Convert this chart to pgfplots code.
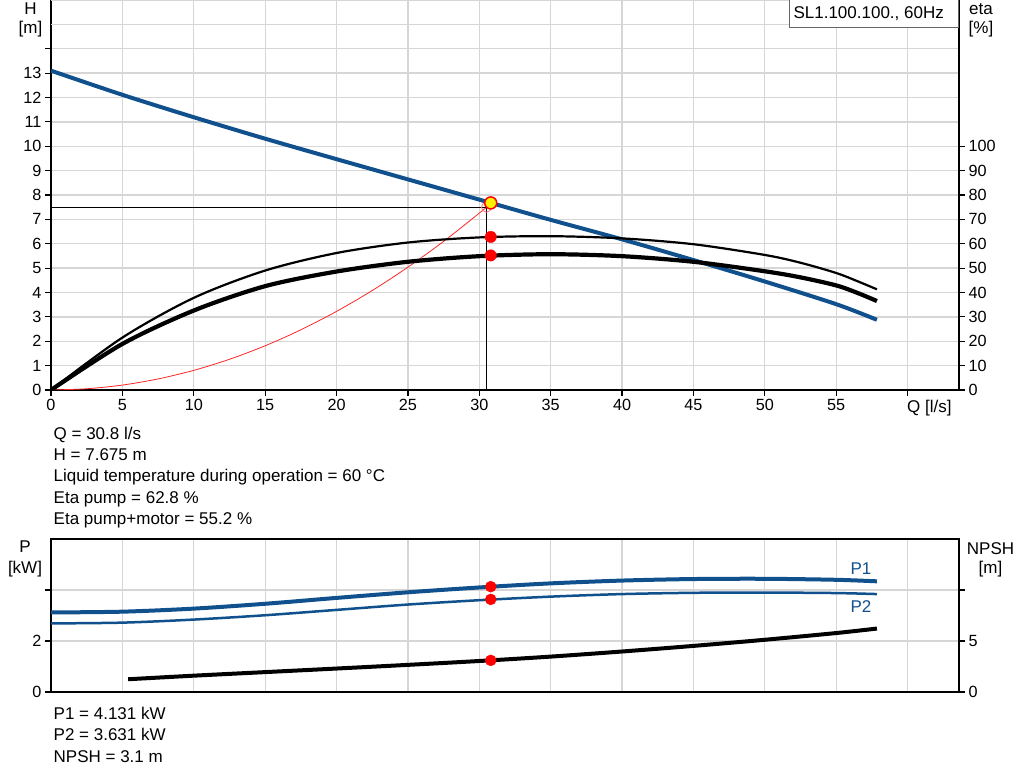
\documentclass[border=0pt]{standalone}
\usepackage{pgfplots}
\pgfplotsset{compat=1.18}
\usepackage{fontspec}
\setmainfont{Liberation Sans}
\definecolor{gblue}{RGB}{16,80,140}
\definecolor{gridc}{RGB}{214,214,214}
\begin{document}
\begin{tikzpicture}[x=1pt,y=1pt]
\useasboundingbox (0,0) rectangle (1024,781);
\pgfplotsset{
  base/.style={scale only axis, width=908pt, xmin=0, xmax=63.6,
    /pgf/number format/assume math mode=true,
    tick label style={font=\fontsize{16.2}{19}\selectfont},
    tick align=outside, major tick length=6pt,
    axis line style={line width=1.6pt},
    major grid style={gridc, line width=1.3pt},
    tick style={black, line width=1.2pt}},
}
% ---------- top panel: H ----------
\begin{axis}[base, at={(51pt,391pt)}, anchor=south west, height=390pt,
  ymin=0, ymax=16,
  xtick={0,5,...,60}, xticklabels={0,5,10,15,20,25,30,35,40,45,50,55,{}},
  ytick={0,1,...,14}, yticklabels={0,1,2,3,4,5,6,7,8,9,10,11,12,13,{}},
  extra y ticks={15}, extra y tick labels={}, extra y tick style={major tick length=0pt},
  xtick pos=left, ytick pos=left, grid=major]
\addplot[red!85, line width=0.8pt, smooth] coordinates {
 (0,0) (2.5,0.0504) (5,0.2016) (7.5,0.4535) (10,0.806) (12.5,1.260) (15,1.814)
 (17.5,2.469) (20,3.225) (22.5,4.081) (25,5.039) (27.5,6.097) (30,7.256) (30.8,7.648)};
\addplot[black, line width=1pt] coordinates {(0,7.5) (30.5,7.5) (30.5,0)};
\addplot[only marks, mark=o, mark size=5pt, red!55, mark options={line width=0.8pt}] coordinates {(30.5,7.5)};
\addplot[gblue, line width=4pt, smooth] coordinates {
 (0,13.1) (5,12.11) (10,11.19) (15,10.31) (20,9.47) (25,8.64) (30,7.81)
 (35,6.98) (40,6.18) (45,5.33) (50,4.45) (55,3.52) (57.85,2.88)};
\addplot[only marks, mark=*, mark size=6pt, mark options={fill=yellow, draw=red, line width=1.5pt}] coordinates {(30.8,7.675)};
\end{axis}
% ---------- top panel: eta ----------
\begin{axis}[base, at={(51pt,391pt)}, anchor=south west, height=390pt,
  ymin=0, ymax=160, axis x line=none, axis y line*=right,
  ytick={0,10,...,100}]
\addplot[black, line width=2.2pt, smooth] coordinates {
 (0,0) (5,21.5) (10,37.8) (15,49.0) (20,56.2) (25,60.5) (30,62.6)
 (35,63.1) (40,62.2) (45,59.8) (50,55.4) (52.5,52.2) (55,48.0) (56.5,44.6) (57.85,41.3)};
\addplot[black, line width=4.2pt, smooth] coordinates {
 (0,0) (5,18.9) (10,32.6) (15,42.6) (20,48.6) (25,52.6) (30,54.9)
 (35,55.7) (40,54.9) (45,52.6) (50,48.7) (52.5,46.2) (55,42.9) (56.5,39.8) (57.85,36.5)};
\addplot[only marks, mark=*, mark size=5.7pt, red] coordinates {(30.8,62.8) (30.8,55.2)};
\end{axis}
% ---------- bottom panel: P ----------
\begin{axis}[base, at={(51pt,89pt)}, anchor=south west, height=153pt,
  ymin=0, ymax=6, xtick={5,10,...,60}, xticklabels={}, xtick style={draw=none},
  ytick={0,2,4}, yticklabels={0,2,{}}, ytick pos=left, grid=major]
\addplot[gblue, line width=4pt, smooth] coordinates {
 (0,3.12) (5,3.15) (10,3.27) (15,3.46) (20,3.69) (25,3.91) (30,4.10)
 (35,4.26) (40,4.37) (45,4.43) (50,4.44) (55,4.40) (57.85,4.34)};
\addplot[gblue, line width=2.5pt, smooth] coordinates {
 (0,2.69) (5,2.72) (10,2.84) (15,3.01) (20,3.22) (25,3.43) (30,3.60)
 (35,3.74) (40,3.84) (45,3.89) (50,3.90) (55,3.88) (57.85,3.84)};
\addplot[only marks, mark=*, mark size=5.5pt, red] coordinates {(30.8,4.131) (30.8,3.631)};
\end{axis}
% ---------- bottom panel: NPSH ----------
\begin{axis}[base, at={(51pt,89pt)}, anchor=south west, height=153pt,
  ymin=0, ymax=15, axis x line=none, axis y line*=right,
  ytick={0,5,10}, yticklabels={0,5,{}}]
\addplot[black, line width=4pt, smooth] coordinates {
 (5.4,1.25) (10,1.6) (15,1.95) (20,2.3) (25,2.66) (30,3.04) (35,3.47)
 (40,3.97) (45,4.52) (50,5.12) (55,5.78) (57.85,6.22)};
\addplot[only marks, mark=*, mark size=5.5pt, red] coordinates {(30.8,3.1)};
\end{axis}
% ---------- decorations and texts ----------
\draw[gridc, line width=1.6pt] (51,781) -- (958,781);
\draw[fill=white, draw=black!60, line width=1pt] (789,781.5) rectangle (958.2,753);
\begin{scope}[every node/.style={inner sep=0pt, font=\fontsize{17}{20}\selectfont}]
\node[anchor=base] at (868.7,762) {SL1.100.100., 60Hz};
\node[anchor=base] at (30.5,766) {H};
\node[anchor=base] at (30.5,747.5) {[m]};
\node[anchor=base] at (981,766) {eta};
\node[anchor=base] at (981,747.5) {[\%]};
\node[anchor=base west] at (907,368) {Q [l/s]};
\node[anchor=base west] at (53.5,341) {Q = 30.8 l/s};
\node[anchor=base west] at (53.5,320) {H = 7.675 m};
\node[anchor=base west] at (53.5,299) {Liquid temperature during operation = 60 °C};
\node[anchor=base west] at (53.5,277) {Eta pump = 62.8 \%};
\node[anchor=base west] at (53.5,256) {Eta pump+motor = 55.2 \%};
\node[anchor=base] at (25,228) {P};
\node[anchor=base] at (25,207.5) {[kW]};
\node[anchor=base] at (990.5,226) {NPSH};
\node[anchor=base] at (990.5,207.5) {[m]};
\node[anchor=base, text=gblue] at (861,206) {P1};
\node[anchor=base, text=gblue] at (861,168) {P2};
\node[anchor=base west] at (53.5,62) {P1 = 4.131 kW};
\node[anchor=base west] at (53.5,41) {P2 = 3.631 kW};
\node[anchor=base west] at (53.5,19) {NPSH = 3.1 m};
\end{scope}
\end{tikzpicture}
\end{document}
